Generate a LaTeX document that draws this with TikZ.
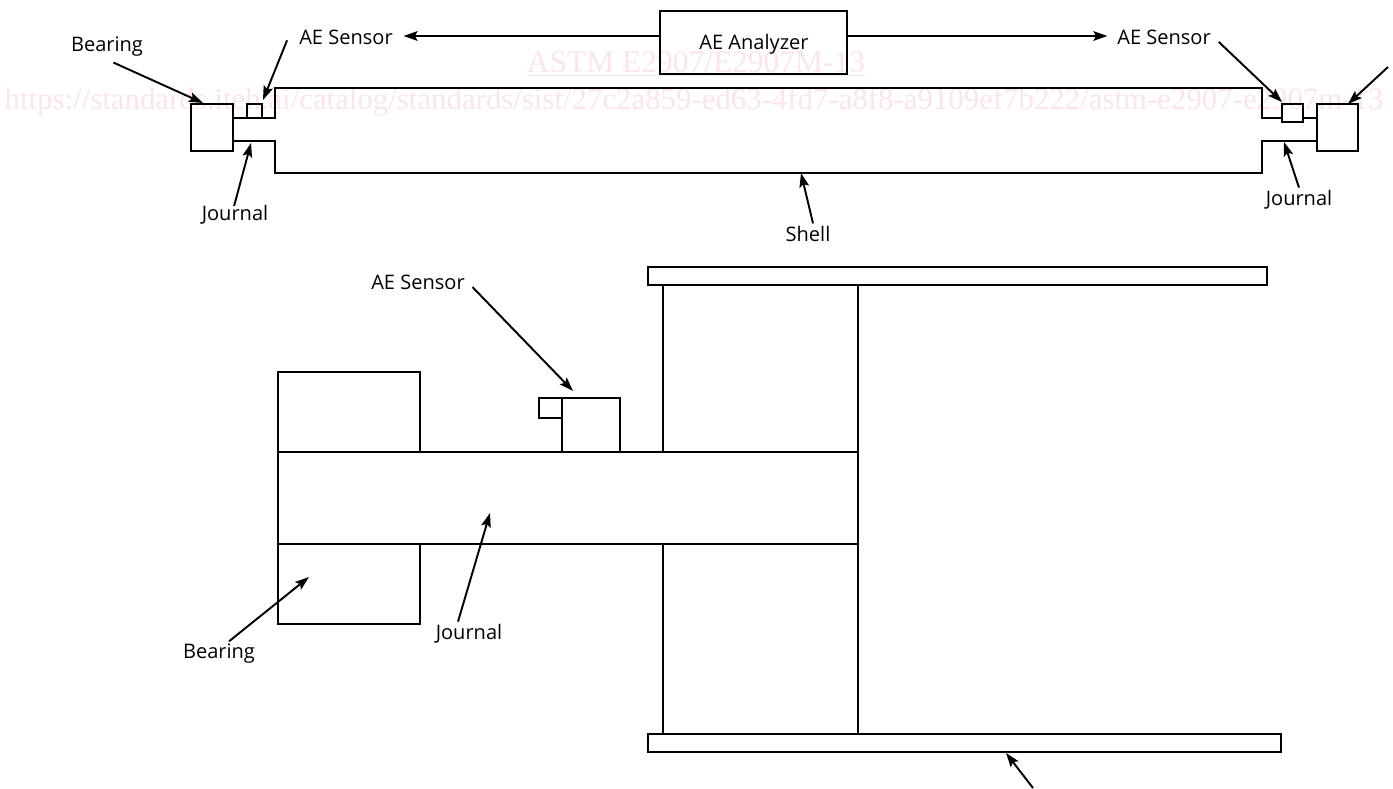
\documentclass[tikz,border=0pt]{standalone}
\usepackage{fontspec}
\usepackage{tikz}
\usetikzlibrary{arrows.meta}
\setmainfont{Open Sans}
\newfontfamily\wmfont{Liberation Serif}
\definecolor{wmpink}{RGB}{252,228,234}

\begin{document}
\begin{tikzpicture}[x=0.02cm,y=-0.02cm,auto,line width=1.3pt,
   lab/.style={inner sep=1pt,font=\fontsize{11.4}{13}\selectfont},
   wm/.style={inner sep=0pt,text=wmpink,font=\wmfont\fontsize{17.55}{18}\selectfont},
   box/.style={draw,inner sep=0pt,fill=none}]

\tikzstyle {edge} = [-{Stealth[length=8pt,width=5.5pt,inset=1.5pt]}, line width=1.1pt];

\useasboundingbox (0,0) rectangle (1393,788);

% watermark
\node[wm,font=\wmfont\fontsize{17.9}{20}\selectfont] (wma) at (696,64) {\underline{ASTM E2907/E2907M-13}};
\node[wm] (wmb) at (694,102) {https://standards.iteh.ai/catalog/standards/sist/27c2a859-ed63-4fd7-a8f8-a9109ef7b222/astm-e2907-e2907m-13};

% upper view
\node[box,minimum width=3.74cm,minimum height=1.26cm] (an) at (753.5,42.5){};
\node[box,minimum width=0.84cm,minimum height=0.94cm] (bl) at (212,127.5){};
\node[box,minimum width=0.82cm,minimum height=0.94cm] (br) at (1337.5,127.5){};
\node[box,minimum width=0.30cm,minimum height=0.28cm] (sl) at (254.5,111){};
\node[box,minimum width=0.42cm,minimum height=0.36cm] (sr) at (1292.5,113){};

\draw (bl.east |- 0,118) -- (275,118) -- (275,88) -- (1262,88) -- (1262,118) -- (sr.west |- 0,118);
\draw (sr.east |- 0,118) -- (br.west |- 0,118);
\draw (bl.east |- 0,141) -- (275,141) -- (275,173) -- (1262,173) -- (1262,141) -- (br.west |- 0,141);

\node[lab] (tan) at (754,44){AE Analyzer};
\node[lab] (tsl) at (346,37){AE Sensor};
\node[lab] (tsr) at (1164,37){AE Sensor};
\node[lab] (tbl) at (107,47){Bearing};
\node[lab] (tjl) at (235,215){Journal};
\node[lab] (tjr) at (1299,200){Journal};
\node[lab] (tsh) at (808,234){Shell};

\coordinate (abl) at (203,103);
\coordinate (asl) at (263,100);
\coordinate (ajl) at (251,143);
\coordinate (asr) at (1282,102);
\coordinate (ajr) at (1284,142);
\coordinate (ash) at (801,173);
\coordinate (abr) at (1348,104);
\coordinate (ebr) at (1388,67);

\path (an.west |- 0,36) edge [edge,shorten >=4.5pt] (tsl.east |- 0,36);
\path (an.east |- 0,36) edge [edge,shorten >=4pt] (tsr.west |- 0,36);
\path (tbl.south) edge [edge,shorten <=4pt] (abl);
\path ([xshift=-0.16cm]tsl.west) edge [edge,shorten <=2pt] (asl);
\path (tjl.north) edge [edge,shorten <=-2pt] (ajl);
\path (tsr.east) edge [edge,shorten <=4pt] (asr);
\path (tjr.north) edge [edge] (ajr);
\path ([xshift=0.1cm]tsh.north) edge [edge] (ash);
\path (ebr) edge [edge] (abr);

% lower view
\node[box,minimum width=12.38cm,minimum height=0.36cm] (ft) at (957.5,276){};
\node[box,minimum width=12.66cm,minimum height=0.36cm] (fb) at (964.5,743){};
\node[box,minimum width=3.90cm,minimum height=8.98cm] (web) at (760.5,509.5){};
\node[box,fill=white,minimum width=11.60cm,minimum height=1.84cm] (jr) at (568,498){};
\node[box,minimum width=2.84cm,minimum height=1.60cm] (bt) at (349,412){};
\node[box,minimum width=2.84cm,minimum height=1.60cm] (bb) at (349,584){};
\node[box,minimum width=1.16cm,minimum height=1.08cm] (sb) at (591,425){};
\node[box,minimum width=0.46cm,minimum height=0.40cm] (ss) at (550.5,408){};

\node[lab] (tsb) at (418,282){AE Sensor};
\node[lab] (tbb) at (219,654){Bearing};
\node[lab] (tjb) at (469,634){Journal};

\coordinate (asb) at (573,391);
\coordinate (abb) at (309,577);
\coordinate (ajb) at (490,513);
\coordinate (afb) at (1006,753);
\coordinate (efb) at (1033,788);

\path (tsb.east) edge [edge,shorten <=4pt] (asb);
\path ([xshift=0.2cm]tbb.north) edge [edge] (abb);
\path ([xshift=-0.22cm]tjb.north) edge [edge] (ajb);
\path (efb) edge [edge] (afb);

\end{tikzpicture}
\end{document}
